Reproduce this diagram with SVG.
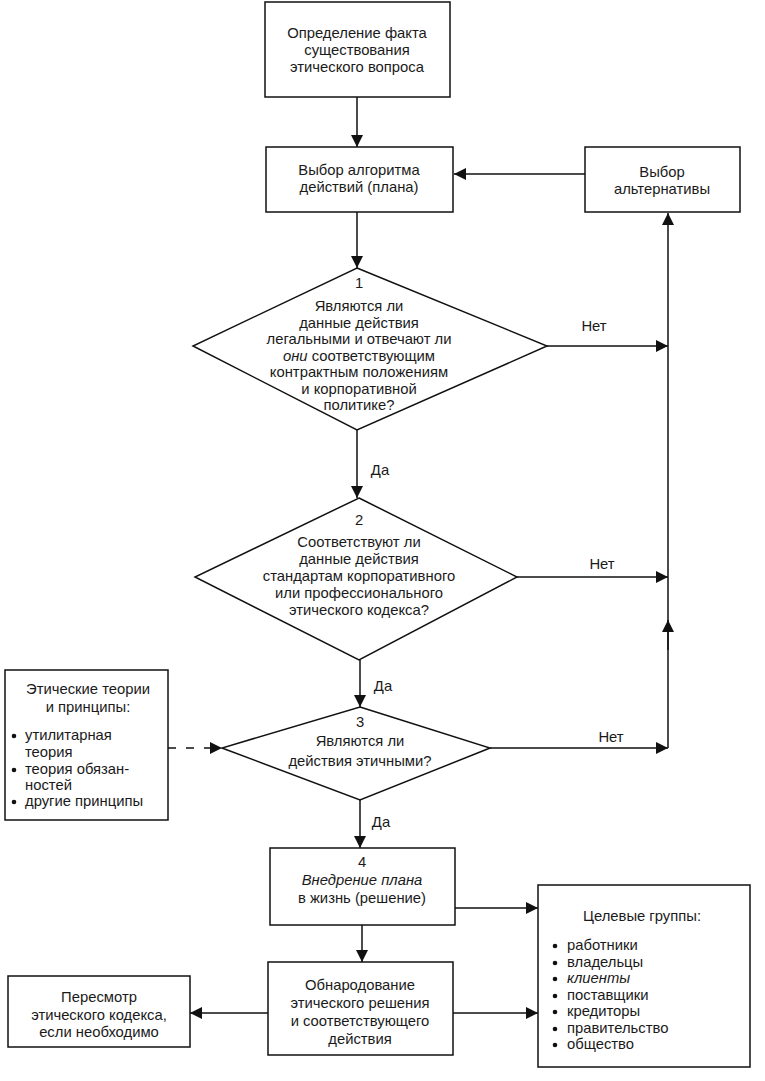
<svg xmlns="http://www.w3.org/2000/svg" width="765" height="1081" viewBox="0 0 765 1081">
<defs>
<marker id="ah" viewBox="0 0 10 10" refX="10" refY="5" markerWidth="12" markerHeight="12" markerUnits="userSpaceOnUse" orient="auto">
<path d="M0,0 L10,5 L0,10 z" fill="#111"/>
</marker>
<style>
.b{fill:#fff;stroke:#111;stroke-width:1.5}
.t{font-family:"Liberation Sans",Arial,sans-serif;font-size:14.8px;fill:#1a1a1a;text-anchor:middle}
.l{font-family:"Liberation Sans",Arial,sans-serif;font-size:14.8px;fill:#1a1a1a;text-anchor:start}
.c{fill:none;stroke:#111;stroke-width:1.5}
.a{marker-end:url(#ah)}
.i{font-style:italic}
</style>
</defs>
<rect width="765" height="1081" fill="#fff"/>
<g id="connectors">
<line class="c a" x1="357" y1="97" x2="357" y2="147"/>
<line class="c a" x1="585" y1="174" x2="454" y2="174"/>
<line class="c a" x1="357" y1="212" x2="357" y2="268"/>
<line class="c a" x1="547" y1="346" x2="668" y2="346"/>
<text class="t" x="594" y="331">Нет</text>
<line class="c a" x1="668" y1="748" x2="668" y2="213"/>
<line class="c a" x1="668" y1="650" x2="668" y2="620"/>
<line class="c a" x1="357" y1="430" x2="357" y2="498"/>
<text class="t" x="380" y="475">Да</text>
<line class="c a" x1="517" y1="577" x2="668" y2="577"/>
<text class="t" x="602" y="569">Нет</text>
<line class="c a" x1="360" y1="660" x2="360" y2="707"/>
<text class="t" x="383" y="691">Да</text>
<line class="c a" x1="168" y1="748" x2="222" y2="748" stroke-dasharray="8,10"/>
<line class="c a" x1="490" y1="748" x2="668" y2="748"/>
<text class="t" x="611" y="742">Нет</text>
<line class="c a" x1="360" y1="800" x2="360" y2="848"/>
<text class="t" x="381" y="827">Да</text>
<line class="c a" x1="455" y1="908" x2="538" y2="908"/>
<line class="c a" x1="362" y1="925" x2="362" y2="962"/>
<line class="c a" x1="268" y1="1013" x2="190" y2="1013"/>
<line class="c a" x1="453" y1="1013" x2="538" y2="1013"/>
</g>
<g id="n1">
<rect class="b" x="265" y="2" width="185" height="95"/>
<text class="t" x="357" y="38">Определение факта</text>
<text class="t" x="357" y="55">существования</text>
<text class="t" x="357" y="72">этического вопроса</text>
</g>
<g id="n2">
<rect class="b" x="266" y="147" width="187" height="65"/>
<text class="t" x="359" y="175">Выбор алгоритма</text>
<text class="t" x="359" y="192">действий (плана)</text>
</g>
<g id="n_alt">
<rect class="b" x="585" y="147" width="155" height="65"/>
<text class="t" x="662" y="177">Выбор</text>
<text class="t" x="662" y="194">альтернативы</text>
</g>
<g id="d1">
<polygon class="b" points="357,268 547,346 357,430 193,346"/>
<text class="t" x="359" y="288">1</text>
<text class="t" x="359" y="311">Являются ли</text>
<text class="t" x="359" y="328">данные действия</text>
<text class="t" x="359" y="344">легальными и отвечают ли</text>
<text class="t" x="359" y="361"><tspan class="i">они</tspan> соответствующим</text>
<text class="t" x="359" y="377">контрактным положениям</text>
<text class="t" x="359" y="394">и корпоративной</text>
<text class="t" x="359" y="410">политике?</text>
</g>
<g id="d2">
<polygon class="b" points="359,498 517,577 359,660 195,577"/>
<text class="t" x="359" y="525">2</text>
<text class="t" x="359" y="547">Соответствуют ли</text>
<text class="t" x="359" y="564">данные действия</text>
<text class="t" x="359" y="581">стандартам корпоративного</text>
<text class="t" x="359" y="598">или профессионального</text>
<text class="t" x="359" y="615">этического кодекса?</text>
</g>
<g id="d3">
<polygon class="b" points="360,707 490,748 360,800 222,748"/>
<text class="t" x="360" y="727">3</text>
<text class="t" x="360" y="746">Являются ли</text>
<text class="t" x="360" y="766">действия этичными?</text>
</g>
<g id="theories">
<rect class="b" x="5" y="670" width="163" height="150"/>
<text class="t" x="88" y="694">Этические теории</text>
<text class="t" x="88" y="712">и принципы:</text>
<circle cx="14" cy="736" r="2.3" fill="#111"/>
<text class="l" x="25" y="740">утилитарная</text>
<text class="l" x="25" y="757">теория</text>
<circle cx="14" cy="770" r="2.3" fill="#111"/>
<text class="l" x="25" y="774">теория обязан-</text>
<text class="l" x="25" y="790">ностей</text>
<circle cx="14" cy="802" r="2.3" fill="#111"/>
<text class="l" x="25" y="806">другие принципы</text>
</g>
<g id="n4">
<rect class="b" x="270" y="848" width="185" height="77"/>
<text class="t" x="362" y="867">4</text>
<text class="t i" x="362" y="885">Внедрение плана</text>
<text class="t" x="362" y="903">в жизнь (решение)</text>
</g>
<g id="targets">
<rect class="b" x="538" y="885" width="212" height="182"/>
<text class="t" x="642" y="921">Целевые группы:</text>
<circle cx="555" cy="946" r="2.3" fill="#111"/>
<text class="l" x="567" y="950">работники</text>
<circle cx="555" cy="963" r="2.3" fill="#111"/>
<text class="l" x="567" y="967">владельцы</text>
<circle cx="555" cy="979" r="2.3" fill="#111"/>
<text class="l i" x="567" y="983">клиенты</text>
<circle cx="555" cy="996" r="2.3" fill="#111"/>
<text class="l" x="567" y="1000">поставщики</text>
<circle cx="555" cy="1012" r="2.3" fill="#111"/>
<text class="l" x="567" y="1016">кредиторы</text>
<circle cx="555" cy="1029" r="2.3" fill="#111"/>
<text class="l" x="567" y="1033">правительство</text>
<circle cx="555" cy="1045" r="2.3" fill="#111"/>
<text class="l" x="567" y="1049">общество</text>
</g>
<g id="n5">
<rect class="b" x="268" y="962" width="185" height="93"/>
<text class="t" x="360" y="990">Обнародование</text>
<text class="t" x="360" y="1008">этического решения</text>
<text class="t" x="360" y="1026">и соответствующего</text>
<text class="t" x="360" y="1044">действия</text>
</g>
<g id="n6">
<rect class="b" x="8" y="976" width="182" height="71"/>
<text class="t" x="99" y="1002">Пересмотр</text>
<text class="t" x="99" y="1020">этического кодекса,</text>
<text class="t" x="99" y="1037">если необходимо</text>
</g>
</svg>
